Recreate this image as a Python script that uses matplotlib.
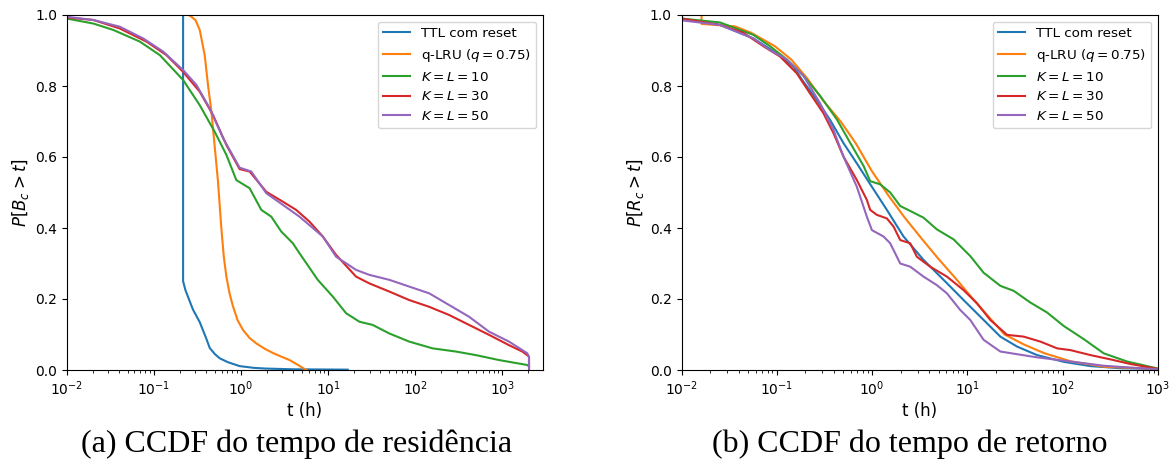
import numpy as np
import matplotlib
matplotlib.use("Agg")
import matplotlib.pyplot as plt

# ---------------- data (x given as log10 of hours, y = CCDF) ----------------
labels = ["TTL com reset", r"q-LRU ($q = 0.75$)", r"$K = L = 10$", r"$K = L = 30$", r"$K = L = 50$"]
colors = ["#1f77b4", "#ff7f0e", "#2ca02c", "#d62728", "#9467bd"]

# (a) residence time
res_ttl_lt = [-0.664, -0.664, -0.637, -0.59, -0.55, -0.473, -0.40, -0.358, -0.30, -0.244, -0.15, -0.015, 0.15, 0.29, 0.6, 1.226]
res_ttl_p = [1.0, 0.25, 0.225, 0.195, 0.17, 0.135, 0.09, 0.062, 0.045, 0.033, 0.022, 0.011, 0.006, 0.004, 0.002, 0.001]

res_qlru_lt = [-0.60, -0.568, -0.52, -0.473, -0.416, -0.378, -0.339, -0.301, -0.263, -0.225, -0.197, -0.167, -0.13,
               -0.092, -0.038, 0.023, 0.10, 0.176, 0.272, 0.367, 0.46, 0.558, 0.65, 0.749]
res_qlru_p = [1.0, 0.995, 0.985, 0.958, 0.887, 0.803, 0.728, 0.63, 0.53, 0.40, 0.32, 0.263, 0.215,
              0.18, 0.14, 0.113, 0.09, 0.075, 0.06, 0.048, 0.038, 0.028, 0.015, 0.0]

res_k10_lt = [-2.0, -1.695, -1.466, -1.160, -0.931, -0.664, -0.473, -0.301, -0.167, -0.053, 0.100, 0.234, 0.348, 0.463, 0.596,
              0.672, 0.882, 1.054, 1.207, 1.360, 1.512, 1.703, 1.932, 2.199, 2.467, 2.696, 2.963, 3.288, 3.307]
res_k10_p = [0.990, 0.976, 0.958, 0.925, 0.887, 0.817, 0.746, 0.671, 0.606, 0.535, 0.512, 0.451, 0.432, 0.390, 0.357,
             0.329, 0.254, 0.207, 0.160, 0.136, 0.127, 0.103, 0.080, 0.061, 0.052, 0.042, 0.028, 0.014, 0.010]

res_k30_lt = [-2.0, -1.695, -1.390, -1.084, -0.855, -0.664, -0.473, -0.320, -0.167, -0.015, 0.100, 0.291, 0.482, 0.634,
              0.787, 0.940, 1.093, 1.322, 1.474, 1.703, 1.932, 2.161, 2.390, 2.619, 2.848, 3.077, 3.230, 3.307, 3.307]
res_k30_p = [0.993, 0.986, 0.962, 0.925, 0.887, 0.840, 0.784, 0.718, 0.634, 0.566, 0.559, 0.502, 0.474, 0.451,
             0.418, 0.376, 0.324, 0.263, 0.244, 0.221, 0.197, 0.178, 0.155, 0.127, 0.099, 0.070, 0.052, 0.038, 0.0]

res_k50_lt = [-2.0, -1.695, -1.390, -1.122, -0.893, -0.664, -0.511, -0.358, -0.205, -0.015, 0.119, 0.291, 0.482, 0.672,
              0.940, 1.093, 1.322, 1.474, 1.703, 1.932, 2.161, 2.390, 2.619, 2.848, 3.077, 3.288, 3.307, 3.307]
res_k50_p = [0.995, 0.986, 0.967, 0.934, 0.897, 0.845, 0.803, 0.737, 0.653, 0.570, 0.559, 0.498, 0.465, 0.432,
             0.376, 0.319, 0.282, 0.268, 0.254, 0.235, 0.216, 0.183, 0.150, 0.108, 0.080, 0.047, 0.035, 0.0]

# (b) return time
ret_ttl_lt = [-2.0, -1.596, -1.246, -1.0, -0.826, -0.721, -0.580, -0.440, -0.300, -0.160, -0.002, 0.155, 0.330, 0.540,
              0.750, 0.960, 1.170, 1.346, 1.521, 1.731, 2.011, 2.290, 2.605, 3.0]
ret_ttl_p = [0.99, 0.972, 0.934, 0.892, 0.854, 0.812, 0.761, 0.704, 0.639, 0.582, 0.516, 0.451, 0.376, 0.310,
             0.254, 0.197, 0.141, 0.094, 0.066, 0.042, 0.023, 0.011, 0.005, 0.003]

ret_qlru_lt = [-1.79, -1.79, -1.44, -1.27, -1.02, -0.85, -0.68, -0.51, -0.33, -0.17, -0.002, 0.17, 0.34, 0.52,
               0.69, 0.87, 1.04, 1.22, 1.39, 1.60, 1.81, 2.09, 2.44, 3.0]
ret_qlru_p = [1.0, 0.975, 0.968, 0.950, 0.912, 0.875, 0.821, 0.758, 0.700, 0.638, 0.560, 0.492, 0.430, 0.370,
              0.315, 0.260, 0.206, 0.151, 0.100, 0.071, 0.047, 0.024, 0.009, 0.003]

ret_k10_lt = [-2.0, -1.596, -1.246, -1.071, -0.896, -0.721, -0.545, -0.370, -0.230, -0.090, -0.020, 0.085, 0.190,
              0.295, 0.400, 0.540, 0.680, 0.855, 1.030, 1.170, 1.346, 1.486, 1.661, 1.836, 2.011, 2.221, 2.430,
              2.675, 3.0]
ret_k10_p = [0.99, 0.979, 0.944, 0.912, 0.875, 0.829, 0.772, 0.706, 0.640, 0.575, 0.532, 0.523, 0.500,
             0.462, 0.448, 0.429, 0.396, 0.368, 0.321, 0.274, 0.237, 0.223, 0.190, 0.162, 0.124, 0.087, 0.047,
             0.024, 0.004]

ret_k30_lt = [-2.0, -1.596, -1.351, -1.141, -0.966, -0.791, -0.651, -0.510, -0.405, -0.300, -0.160, -0.055, -0.020,
              0.050, 0.155, 0.225, 0.295, 0.400, 0.470, 0.610, 0.785, 0.960, 1.100, 1.240, 1.416, 1.591, 1.766, 1.941,
              2.081, 2.291, 2.500, 2.710, 3.0]
ret_k30_p = [0.99, 0.972, 0.950, 0.912, 0.883, 0.836, 0.779, 0.723, 0.667, 0.601, 0.535, 0.479, 0.451,
             0.437, 0.427, 0.404, 0.366, 0.357, 0.319, 0.291, 0.263, 0.225, 0.188, 0.141, 0.099, 0.094, 0.080, 0.061,
             0.056, 0.042, 0.030, 0.017, 0.003]

ret_k50_lt = [-2.0, -1.596, -1.246, -1.071, -0.896, -0.721, -0.545, -0.405, -0.300, -0.160, -0.055, -0.002, 0.120,
              0.190, 0.295, 0.400, 0.540, 0.680, 0.785, 0.925, 1.030, 1.170, 1.346, 1.721, 2.081, 2.430, 2.700, 3.0]
ret_k50_p = [0.985, 0.972, 0.934, 0.901, 0.875, 0.829, 0.751, 0.676, 0.601, 0.516, 0.432, 0.394, 0.376,
             0.357, 0.300, 0.291, 0.263, 0.239, 0.216, 0.169, 0.141, 0.085, 0.052, 0.036, 0.024, 0.012, 0.007, 0.002]

panels = [
    dict(series=[(res_ttl_lt, res_ttl_p), (res_qlru_lt, res_qlru_p), (res_k10_lt, res_k10_p),
                 (res_k30_lt, res_k30_p), (res_k50_lt, res_k50_p)],
         ylabel=r"$P[B_c > t]$", xmax=2950, caption="(a) CCDF do tempo de residência"),
    dict(series=[(ret_ttl_lt, ret_ttl_p), (ret_qlru_lt, ret_qlru_p), (ret_k10_lt, ret_k10_p),
                 (ret_k30_lt, ret_k30_p), (ret_k50_lt, ret_k50_p)],
         ylabel=r"$P[R_c > t]$", xmax=1000, caption="(b) CCDF do tempo de retorno"),
]

# ---------------- figure ----------------
W, H = 1176, 465
fig = plt.figure(figsize=(W / 100, H / 100), dpi=100)
plt.rcParams["font.size"] = 10

ax_lefts = [66.7, 681.5]
ax_w = 476.5
ax_top, ax_bottom = 15, 370
cap_x = [297, 910]

for i, pan in enumerate(panels):
    ax = fig.add_axes([ax_lefts[i] / W, (H - ax_bottom) / H, ax_w / W, (ax_bottom - ax_top) / H])
    for (lt, p), lab, c in zip(pan["series"], labels, colors):
        ax.plot(10 ** np.asarray(lt), p, color=c, label=lab, lw=1.5)
    ax.set_xscale("log")
    ax.set_xlim(1e-2, pan["xmax"])
    ax.set_ylim(0, 1)
    ax.set_yticks([0.0, 0.2, 0.4, 0.6, 0.8, 1.0])
    ax.tick_params(labelsize=10)
    ax.set_xlabel("t (h)", fontsize=12, labelpad=3)
    ax.set_ylabel(pan["ylabel"], fontsize=12, labelpad=3)
    ax.legend(loc="upper right", fontsize=9.7)
    fig.text(cap_x[i] / W, (H - 444) / H, pan["caption"], ha="center", va="center",
             family="Liberation Serif", fontsize=23)

fig.savefig("out.png", dpi=100)
